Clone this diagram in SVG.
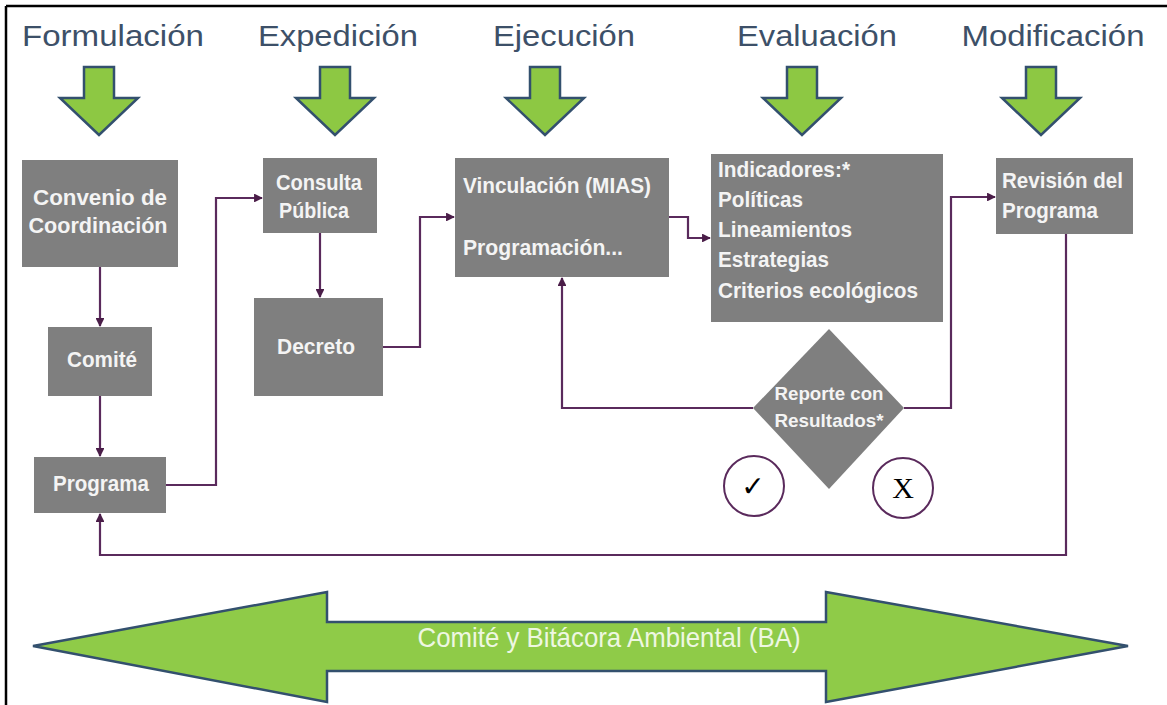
<svg xmlns="http://www.w3.org/2000/svg" width="1167" height="705" viewBox="0 0 1167 705">
<defs>
<style>
.title{font-family:"Liberation Sans",Arial,sans-serif;font-size:30px;fill:#3d5068;text-anchor:middle}
.box{fill:#7f7f7f}
.bt{font-family:"Liberation Sans",Arial,sans-serif;font-weight:bold;font-size:21.5px;fill:#f4f4f4}
.mid{text-anchor:middle}
.garrow{fill:#8dc843;stroke:#33506e;stroke-width:2.5;stroke-linejoin:miter}
.conn{fill:none;stroke:#5a2a5c;stroke-width:2.2}
.circ{fill:#ffffff;stroke:#5a2a5c;stroke-width:2}
</style>
<marker id="ah" viewBox="0 0 10 10" refX="9" refY="5" markerWidth="4" markerHeight="4" orient="auto" markerUnits="strokeWidth">
<path d="M0,0 L10,5 L0,10 Z" fill="#4a1d48"/>
</marker>
</defs>
<rect x="0" y="0" width="1167" height="705" fill="#ffffff"/>
<g id="frame">
<line x1="6" y1="6" x2="1167" y2="6" stroke="#000" stroke-width="2.5"/>
<line x1="6" y1="6" x2="6" y2="705" stroke="#000" stroke-width="2.5"/>
</g>
<g id="titles">
<text class="title" x="113" y="46" textLength="182" lengthAdjust="spacingAndGlyphs">Formulación</text>
<text class="title" x="338" y="46" textLength="160" lengthAdjust="spacingAndGlyphs">Expedición</text>
<text class="title" x="564" y="46" textLength="142" lengthAdjust="spacingAndGlyphs">Ejecución</text>
<text class="title" x="817" y="46" textLength="160" lengthAdjust="spacingAndGlyphs">Evaluación</text>
<text class="title" x="1053" y="46" textLength="183" lengthAdjust="spacingAndGlyphs">Modificación</text>
</g>
<g id="phase-arrows">
<path class="garrow" d="M84,67 H114 V98 H138 L99,135 L60,98 H84 Z"/>
<path class="garrow" d="M320,67 H350 V98 H374 L335,135 L296,98 H320 Z"/>
<path class="garrow" d="M530,67 H560 V98 H584 L545,135 L506,98 H530 Z"/>
<path class="garrow" d="M787,67 H817 V98 H841 L802,135 L763,98 H787 Z"/>
<path class="garrow" d="M1026,67 H1056 V98 H1080 L1041,135 L1002,98 H1026 Z"/>
</g>
<g id="connectors">
<path class="conn" d="M100,267 V326" marker-end="url(#ah)"/>
<path class="conn" d="M100,396 V456" marker-end="url(#ah)"/>
<path class="conn" d="M166,485 H216 V198 H262" marker-end="url(#ah)"/>
<path class="conn" d="M320,233 V297" marker-end="url(#ah)"/>
<path class="conn" d="M383,347 H420 V217 H454" marker-end="url(#ah)"/>
<path class="conn" d="M669,217 H688 V238 H710" marker-end="url(#ah)"/>
<path class="conn" d="M753,408 H562 V278" marker-end="url(#ah)"/>
<path class="conn" d="M904,408 H951 V197 H995" marker-end="url(#ah)"/>
<path class="conn" d="M1066,234 V555 H100 V514" marker-end="url(#ah)"/>
</g>
<g id="convenio">
<rect class="box" x="22" y="160" width="156" height="107"/>
<text class="bt mid" x="100" y="205" textLength="134" lengthAdjust="spacingAndGlyphs">Convenio de</text>
<text class="bt mid" x="98" y="233" textLength="139" lengthAdjust="spacingAndGlyphs">Coordinación</text>
</g>
<g id="comite">
<rect class="box" x="48" y="327" width="104" height="69"/>
<text class="bt mid" x="102" y="367" textLength="70" lengthAdjust="spacingAndGlyphs">Comité</text>
</g>
<g id="programa">
<rect class="box" x="34" y="457" width="132" height="56"/>
<text class="bt mid" x="101" y="491" textLength="96" lengthAdjust="spacingAndGlyphs">Programa</text>
</g>
<g id="consulta">
<rect class="box" x="263" y="158" width="114" height="75"/>
<text class="bt mid" x="319" y="190" textLength="86" lengthAdjust="spacingAndGlyphs">Consulta</text>
<text class="bt mid" x="314" y="218" textLength="70" lengthAdjust="spacingAndGlyphs">Pública</text>
</g>
<g id="decreto">
<rect class="box" x="254" y="298" width="129" height="98"/>
<text class="bt mid" x="316" y="354" textLength="78" lengthAdjust="spacingAndGlyphs">Decreto</text>
</g>
<g id="vinculacion">
<rect class="box" x="455" y="158" width="214" height="119"/>
<text class="bt" x="463" y="193" textLength="188" lengthAdjust="spacingAndGlyphs">Vinculación (MIAS)</text>
<text class="bt" x="463" y="255" textLength="160" lengthAdjust="spacingAndGlyphs">Programación...</text>
</g>
<g id="indicadores">
<rect class="box" x="711" y="154" width="232" height="168"/>
<text class="bt" x="718" y="177" textLength="132" lengthAdjust="spacingAndGlyphs">Indicadores:*</text>
<text class="bt" x="718" y="207" textLength="85" lengthAdjust="spacingAndGlyphs">Políticas</text>
<text class="bt" x="718" y="237" textLength="134" lengthAdjust="spacingAndGlyphs">Lineamientos</text>
<text class="bt" x="718" y="267" textLength="111" lengthAdjust="spacingAndGlyphs">Estrategias</text>
<text class="bt" x="718" y="298" textLength="200" lengthAdjust="spacingAndGlyphs">Criterios ecológicos</text>
</g>
<g id="revision">
<rect class="box" x="996" y="158" width="137" height="76"/>
<text class="bt" x="1002" y="188" textLength="121" lengthAdjust="spacingAndGlyphs">Revisión del</text>
<text class="bt" x="1002" y="218" textLength="96" lengthAdjust="spacingAndGlyphs">Programa</text>
</g>
<g id="reporte">
<path class="box" d="M829,329 L904,408 L829,489 L753,408 Z"/>
<text class="bt mid" x="829" y="400" style="font-size:19px" textLength="109" lengthAdjust="spacingAndGlyphs">Reporte con</text>
<text class="bt mid" x="829" y="427" style="font-size:19px" textLength="109" lengthAdjust="spacingAndGlyphs">Resultados*</text>
</g>
<g id="si">
<circle class="circ" cx="754" cy="486" r="30"/>
<text x="753" y="496" text-anchor="middle" font-family="DejaVu Sans, sans-serif" font-weight="bold" font-size="28" fill="#000">✓</text>
</g>
<g id="no">
<circle class="circ" cx="903" cy="488" r="30"/>
<text x="903" y="498" text-anchor="middle" font-family="Liberation Serif, serif" font-size="30" fill="#000">X</text>
</g>
<g id="bitacora">
<path d="M33,646 L327,592 V622 H826 V592 L1128,646 L826,702 V671 H327 V702 Z" fill="#8fcb48" stroke="#33506e" stroke-width="2.5" stroke-linejoin="miter"/>
<text x="609" y="647" text-anchor="middle" font-family="Liberation Sans, Arial, sans-serif" font-size="28" fill="#eef7e2" textLength="383" lengthAdjust="spacingAndGlyphs">Comité y Bitácora Ambiental (BA)</text>
</g>
</svg>
